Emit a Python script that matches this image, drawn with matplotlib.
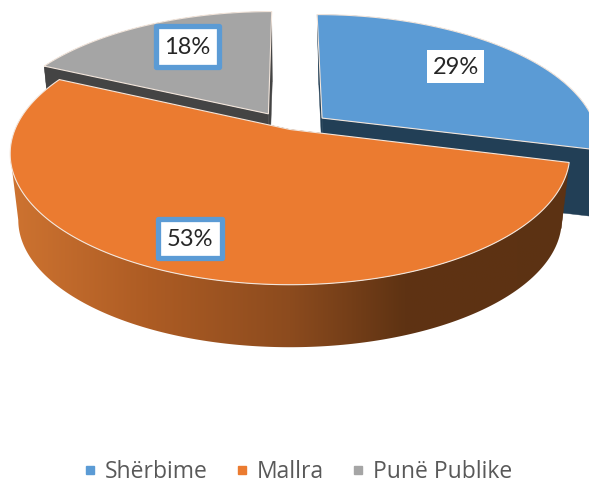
#!/usr/bin/python3
import numpy as np
import matplotlib
matplotlib.use('Agg')
import matplotlib.pyplot as plt
from matplotlib.colors import LinearSegmentedColormap
from matplotlib.lines import Line2D
from matplotlib.patches import Rectangle

categories = ['Shërbime', 'Mallra', 'Punë Publike']
values = [29, 53, 18]
labels = ['29%', '53%', '18%']

top_colors = ['#5b9bd5', '#eb7b30', '#a5a5a5']
side_colors = ['#223f56', '#5c3213', '#444444']
explode = [0.15, 0.0, 0.15]

# perspective of the tilted disc, in pixels
CX, CY = 290, 129.5
RAD, FLAT, PERSP = 275, 0.46, 0.185
SHRINK, DEPTH = 0.971, 67

plt.rcParams['font.family'] = ['Open Sans', 'DejaVu Sans']


def project(x, y, bottom=False):
    x, y = np.asarray(x, float), np.asarray(y, float)
    s = 1 / (1 + PERSP * y)
    c = SHRINK if bottom else 1
    off = DEPTH if bottom else 0
    return np.column_stack((CX + RAD * c * x * s, CY + off - RAD * c * FLAT * y * s))


fig = plt.figure(figsize=(5.89, 4.84), dpi=100)
ax = fig.add_axes([0, 0, 1, 1])

shade = LinearSegmentedColormap.from_list(
    'wall', [(0, '#cf7431'), (0.25, '#ad5c24'), (0.5, '#8c4b1e'), (0.7, '#5f3313'), (1, '#5c3213')])

# slices clockwise from twelve o'clock, back ones first
ends = 90 - np.cumsum(values) / np.sum(values) * 360
starts = np.r_[90, ends[:-1]]
for i in [2, 0, 1]:
    mid = np.radians((starts[i] + ends[i]) / 2)
    dx, dy = explode[i] * np.cos(mid), explode[i] * np.sin(mid)
    ang = np.radians(np.linspace(starts[i], ends[i], 240))
    rx, ry = dx + np.cos(ang), dy + np.sin(ang)

    top_rim = project(rx, ry)
    low_rim = project(rx, ry, bottom=True)
    top_apex = project([dx], [dy])
    low_apex = project([dx], [dy], bottom=True)

    # keep the dark edge on the left of blue down to a sliver
    if i == 0:
        low_rim = low_rim + [2.5, 0]
        low_apex = low_apex + [2.5, 0]

    # the two cut faces
    for j in [0, -1]:
        face = [top_apex[0], top_rim[j], low_rim[j], low_apex[0]]
        ax.add_patch(plt.Polygon(face, closed=True, fc=side_colors[i], ec=side_colors[i], lw=0.3))

    # outer wall, ends at the leftmost point of each rim
    a, b = np.argmin(top_rim[:, 0]), np.argmin(low_rim[:, 0])
    if i != 1:
        a, b = len(ang) - 1, len(ang) - 1
    wall = plt.Polygon(np.vstack((top_rim[:a + 1], low_rim[b::-1])), closed=True,
                       fc=side_colors[i] if i != 1 else 'none', ec='none')
    ax.add_patch(wall)
    if i == 1:
        im = ax.imshow(np.linspace(0, 1, 256)[None, :], cmap=shade, aspect='auto',
                       extent=(5, 575, 360, 130), interpolation='bilinear')
        im.set_clip_path(wall)

    # top surface
    ax.add_patch(plt.Polygon(np.vstack((top_apex, top_rim)), closed=True, fc=top_colors[i],
                             ec='#f3e6dc', lw=0.8))

# data labels: x, y, width, height of the white box
boxes = [(427, 50, 57, 33), (158, 219, 64, 39), (156, 26, 63, 41)]
borders = [None, '#5b9bd5', '#5b9bd5']
for lab, (bx, by, bw, bh), border in zip(labels, boxes, borders):
    ax.add_patch(Rectangle((bx, by), bw, bh, fc='white', ec=border or 'white',
                           lw=3.8 if border else 0, joinstyle='round'))
    ax.text(bx + bw / 2, by + bh / 2 + 0.5, lab, ha='center', va='center', fontsize=17,
            family=['Lato', 'DejaVu Sans'], color='#262626')

ax.set_xlim(0, 589)
ax.set_ylim(484, 0)
ax.axis('off')

handles = [Line2D([], [], ls='', marker='s', ms=6, mfc=c, mec=c) for c in top_colors]
ax.legend(handles, categories, loc='center', bbox_to_anchor=(297.5, 472.5), bbox_transform=ax.transData,
          ncol=3, frameon=False, fontsize=16.5, labelcolor='#595959', handlelength=0.6,
          handletextpad=0.35, columnspacing=1.2, borderpad=0)

fig.savefig('out.png', dpi=100)
